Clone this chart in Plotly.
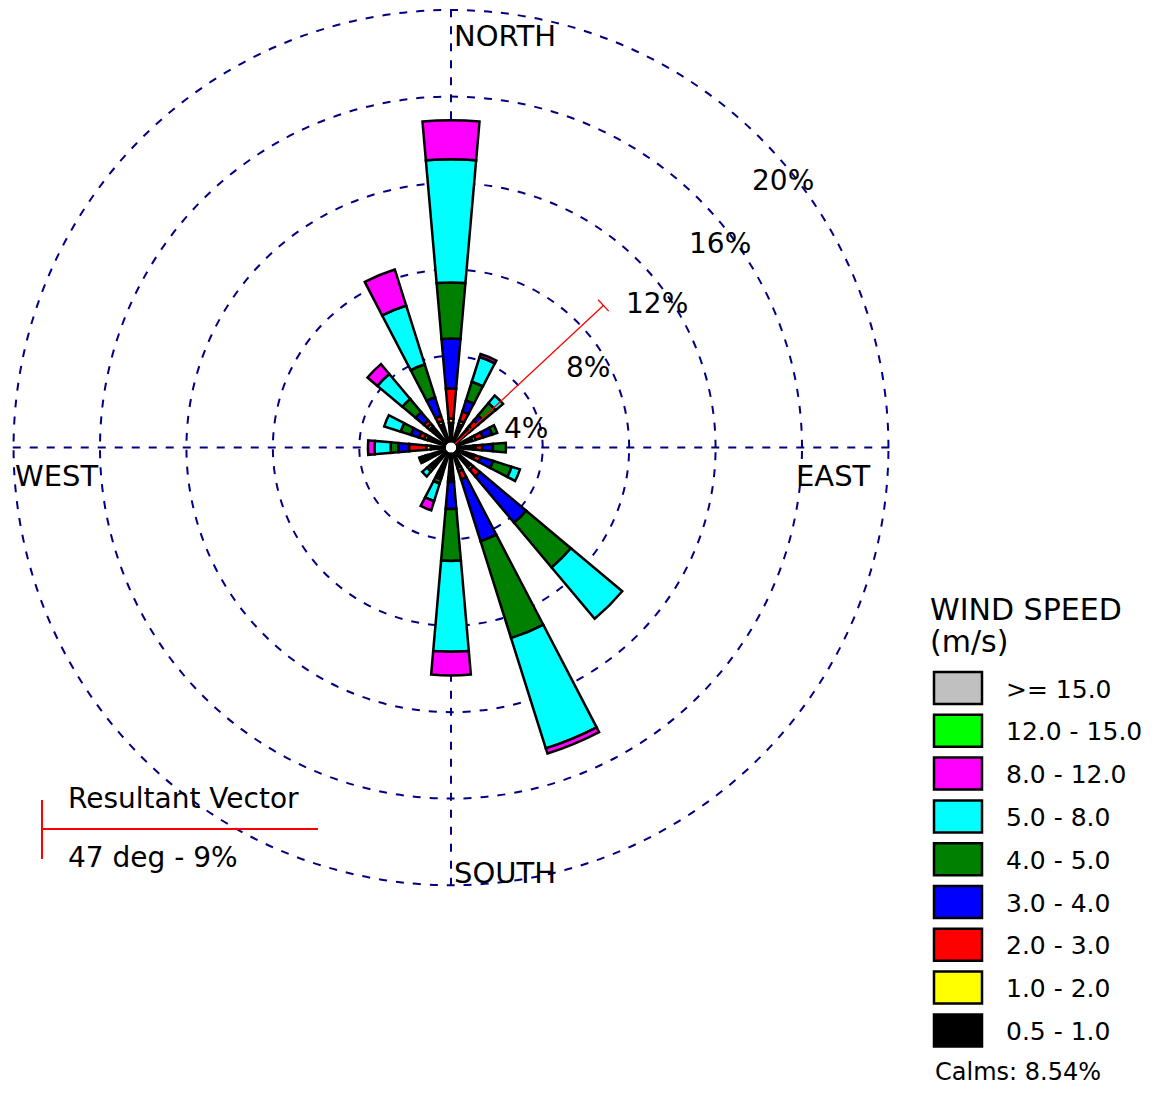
import numpy as np
import plotly.graph_objects as go

# ---------------- data ----------------
directions = ["N", "NNE", "NE", "ENE", "E", "ESE", "SE", "SSE",
              "S", "SSW", "SW", "WSW", "W", "WNW", "NW", "NNW"]
dir_deg = [0, 22.5, 45, 67.5, 90, 112.5, 135, 157.5,
           180, 202.5, 225, 247.5, 270, 292.5, 315, 337.5]

# frequency (%) per speed class, inner (slowest) to outer (fastest)
pct_0_5_1 = [0.9, 0.9, 0.9, 0.8, 0.8, 0.8, 0.95, 0.75, 1.15, 1.0, 0.8, 0.9, 0.7, 0.9, 1.05, 0.9]
pct_1_2 = [0.2, 0.15, 0.15, 0.15, 0.1, 0.1, 0.15, 0.15, 0.1, 0.1, 0.1, 0.1, 0.2, 0.15, 0.15, 0.15]
pct_2_3 = [1.4, 0.45, 0.35, 0.35, 0.3, 0.3, 0.4, 0.4, 0.1, 0.1, 0.05, 0.1, 0.8, 0.25, 0.2, 0.25]
pct_3_4 = [2.3, 0.55, 0.3, 0.45, 0.5, 0.6, 2.8, 3.0, 1.25, 0.1, 0.1, 0.1, 0.5, 0.4, 0.5, 0.9]
pct_4_5 = [2.6, 0.9, 0.75, 0.25, 0.6, 0.9, 2.7, 4.7, 2.4, 0.2, 0.15, 0.1, 0.35, 0.5, 0.8, 1.6]
pct_5_8 = [5.7, 1.2, 0.45, 0, 0, 0.4, 3.1, 5.35, 4.2, 0.85, 0.3, 0, 0.75, 0.8, 1.5, 2.85]
pct_8_12 = [1.8, 0.15, 0, 0, 0, 0, 0, 0.25, 1.1, 0.45, 0, 0, 0.3, 0, 0.6, 1.75]
pct_12_15 = [0] * 16
pct_15_up = [0] * 16

speed_labels = ["0.5 - 1.0", "1.0 - 2.0", "2.0 - 3.0", "3.0 - 4.0", "4.0 - 5.0",
                "5.0 - 8.0", "8.0 - 12.0", "12.0 - 15.0", ">= 15.0"]
speed_colors = ["#000000", "#FFFF00", "#FF0000", "#0000FF", "#008000",
                "#00FFFF", "#FF00FF", "#00FF00", "#C0C0C0"]
speed_series = [pct_0_5_1, pct_1_2, pct_2_3, pct_3_4, pct_4_5,
                pct_5_8, pct_8_12, pct_12_15, pct_15_up]

ring_vals = [4, 8, 12, 16, 20]
ring_text = ["4%", "8%", "12%", "16%", "20%"]

legend_title = ["WIND SPEED", "(m/s)"]
calms_pct = 8.54
resultant_dir = 47
resultant_pct = 9.4

compass_labels = ["NORTH", "EAST", "SOUTH", "WEST"]

# ---------------- figure ----------------
OFF = 8                      # page body margin
W, H = 1155 - 2 * OFF, 1099 - 2 * OFF
FONT = "DejaVu Sans"
NAVY = "#000080"
DASH = "8px,9px"

fig = go.Figure()

for lab, col, vals in zip(speed_labels, speed_colors, speed_series):
    fig.add_trace(go.Barpolar(
        r=vals, theta=dir_deg, width=10, name=lab,
        marker=dict(color=col, line=dict(color="black", width=2.5)),
        showlegend=False,
    ))

# resultant vector
fig.add_trace(go.Scatterpolar(
    r=[0, resultant_pct], theta=[resultant_dir, resultant_dir],
    mode="lines", line=dict(color="#FF0000", width=1.3), showlegend=False))
half = 0.35
dth = np.degrees(np.arctan(half / resultant_pct))
rr = float(np.hypot(resultant_pct, half))
fig.add_trace(go.Scatterpolar(
    r=[rr, rr], theta=[resultant_dir - dth, resultant_dir + dth],
    mode="lines", line=dict(color="#FF0000", width=1.3), showlegend=False))

RMAX = 20.1
cx, cy = 451, 447
R = 438 * RMAX / 20


def px(x):
    return (x - OFF) / W


def py(y):
    return 1 - (y - OFF) / H


def clip01(v):
    return min(1.0, max(0.0, v))


fig.update_layout(
    width=W, height=H,
    margin=dict(l=0, r=0, t=0, b=0),
    paper_bgcolor="white",
    font=dict(family=FONT, color="black"),
    polar=dict(
        domain=dict(x=[clip01(px(cx - R)), clip01(px(cx + R))],
                    y=[clip01(py(cy + R)), clip01(py(cy - R))]),
        bgcolor="white",
        hole=0.012,
        barmode="stack",
        radialaxis=dict(
            range=[0, RMAX], tickvals=ring_vals, ticktext=ring_text,
            showticklabels=False, showline=False, ticks="",
            gridcolor=NAVY, griddash=DASH, gridwidth=2,
        ),
        angularaxis=dict(
            rotation=90, direction="clockwise",
            tickvals=[0, 90, 180, 270], showticklabels=False, ticks="",
            showline=False, gridcolor=NAVY, griddash=DASH, gridwidth=2,
        ),
    ),
)

# ring labels (placed as in the original, beside the NE diagonal)
ring_pos = [(526, 428), (588, 368), (657, 303), (720, 243), (783, 180)]
for t, (x, y) in zip(ring_text, ring_pos):
    fig.add_annotation(text=t, x=px(x), y=py(y), xref="paper", yref="paper",
                       xanchor="center", yanchor="middle", showarrow=False,
                       font=dict(size=28, family=FONT, color="black"))

# compass labels
pos = {"NORTH": (452, 36), "EAST": (794, 476), "SOUTH": (452, 873), "WEST": (13, 476)}
for lab in compass_labels:
    x, y = pos[lab]
    fig.add_annotation(text=lab, x=px(x), y=py(y), xref="paper", yref="paper",
                       xanchor="left", yanchor="middle", showarrow=False,
                       font=dict(size=29, family=FONT, color="black"))

# legend (drawn)
for i, t in enumerate(legend_title):
    fig.add_annotation(text=t, x=px(928), y=py(609 + 32 * i), xref="paper", yref="paper",
                       xanchor="left", yanchor="middle", showarrow=False,
                       font=dict(size=30, family=FONT, color="black"))
y0, dy = 688, 42.8
for i, (lab, col) in enumerate(zip(speed_labels[::-1], speed_colors[::-1])):
    yc = y0 + i * dy
    fig.add_shape(type="rect", xref="paper", yref="paper",
                  x0=px(934), x1=px(982), y0=py(yc + 16), y1=py(yc - 16),
                  fillcolor=col, line=dict(color="black", width=2.5))
    fig.add_annotation(text=lab, x=px(1004), y=py(yc + 1), xref="paper", yref="paper",
                       xanchor="left", yanchor="middle", showarrow=False,
                       font=dict(size=25, family=FONT, color="black"))
fig.add_annotation(text=f"Calms: {calms_pct:.2f}%", x=px(933), y=py(1072), xref="paper", yref="paper",
                   xanchor="left", yanchor="middle", showarrow=False,
                   font=dict(size=24, family=FONT, color="black"))

# resultant vector key
fig.add_shape(type="line", xref="paper", yref="paper", x0=px(42), x1=px(42), y0=py(800), y1=py(859),
              line=dict(color="#FF0000", width=2))
fig.add_shape(type="line", xref="paper", yref="paper", x0=px(42), x1=px(318), y0=py(829), y1=py(829),
              line=dict(color="#FF0000", width=2))
fig.add_annotation(text="Resultant Vector", x=px(66), y=py(798), xref="paper", yref="paper",
                   xanchor="left", yanchor="middle", showarrow=False,
                   font=dict(size=28, family=FONT, color="black"))
fig.add_annotation(text=f"{resultant_dir} deg - {round(resultant_pct)}%", x=px(66), y=py(858),
                   xref="paper", yref="paper", xanchor="left", yanchor="middle", showarrow=False,
                   font=dict(size=28, family=FONT, color="black"))

fig.write_html("out.html")
